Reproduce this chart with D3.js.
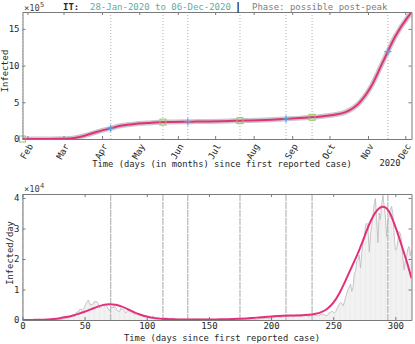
<!DOCTYPE html>
<html>
<head>
<meta charset="utf-8">
<script src="https://cdn.jsdelivr.net/npm/d3@7"></script>
<style>
body { margin: 0; background: #fff; }
svg { display: block; font-family: "DejaVu Sans Mono", monospace; }
</style>
</head>
<body>
<svg width="415" height="344"></svg>
<script>
//chart data
var startDate = new Date(2020, 0, 28);
var lastDay = 313;

//cumulative infected (x 1e5), fitted curve
var cumDays = [0,10,20,30,40,50,60,70,80,90,100,110,120,130,140,150,160,170,180,190,200,210,220,230,240,250,260,270,280,290,300,310,313];
var cumVals = [0,0,0.01,0.03,0.1,0.45,0.98,1.42,1.83,2.05,2.17,2.27,2.31,2.34,2.37,2.4,2.43,2.48,2.52,2.57,2.63,2.71,2.81,2.93,3.07,3.27,3.66,4.75,7.0,10.5,14.0,16.6,17.25];

//daily infected fit (thousands)
var fitDays = [0,5,10,15,20,25,30,35,40,45,50,55,60,65,70,75,80,85,90,95,100,105,110,115,120,125,130,135,140,145,150,155,160,165,170,175,180,185,190,195,200,205,210,215,220,225,230,235,240,245,250,255,260,265,270,275,280,285,290,295,300,305,310,313];
var fitVals = [0,0.02,0.05,0.1,0.2,0.35,0.6,0.95,1.4,2.0,2.7,3.5,4.3,4.95,5.2,5.0,4.4,3.5,2.5,1.7,1.1,0.7,0.45,0.3,0.22,0.18,0.16,0.15,0.15,0.16,0.17,0.19,0.22,0.27,0.33,0.42,0.53,0.67,0.83,1.0,1.17,1.3,1.4,1.47,1.5,1.55,1.7,2.0,2.5,3.6,5.6,8.8,13.0,17.5,22.0,27.2,32.3,35.8,37.1,35.5,30.6,24.5,18.0,13.7];

//reported daily infected (thousands), one value per day from 28-Jan
var rawDaily = [
 0,0,0,0,0,0,0,0,0,0,0,0,0,0,0,0,0,0,0,0,0,0,0,0,
 0.02,0.06,0.07,0.06,0.1,0.09,0.25,0.24,0.24,
 0.57,0.34,0.47,0.59,0.77,0.78,1.25,1.49,1.8,0.98,2.31,2.65,2.55,3.5,3.59,3.23,3.53,4.21,5.32,5.99,6.56,5.56,4.79,5.25,5.21,6.15,5.96,5.97,5.22,4.05,4.05,
 4.78,4.67,4.59,4.8,4.32,3.6,3.04,3.84,4.2,3.95,4.69,4.09,3.15,2.97,2.67,3.79,3.49,3.49,3.05,2.26,2.73,3.37,2.65,3.02,2.36,2.32,1.74,2.09,2.09,1.87,
 1.97,1.9,1.39,1.22,1.08,1.44,1.4,1.33,1.08,0.8,0.74,1.4,0.89,0.99,0.79,0.88,0.68,0.45,0.81,0.67,0.64,0.65,0.67,0.53,0.3,0.4,0.58,0.59,0.52,0.42,0.36,
 0.32,0.18,0.3,0.25,0.2,0.28,0.2,0.18,0.28,0.3,0.2,0.2,0.34,0.33,0.2,0.3,0.33,0.25,0.26,0.23,0.26,0.2,0.2,0.3,0.26,0.2,0.2,0.28,0.19,0.2,
 0.19,0.19,0.22,0.24,0.21,0.19,0.14,0.19,0.19,0.23,0.27,0.19,0.17,0.21,0.13,0.17,0.23,0.28,0.23,0.16,0.19,0.13,0.19,0.26,0.28,0.31,0.25,0.18,0.21,0.29,0.38,
 0.3,0.24,0.16,0.28,0.4,0.34,0.55,0.38,0.46,0.48,0.63,0.46,0.48,0.4,0.63,0.64,0.84,0.95,1.07,1.21,0.95,0.88,0.85,1.07,1.37,1.41,1.21,1.2,0.95,1.37,1.46,
 0.98,1.33,1.33,1.7,1.73,1.7,1.37,1.01,1.43,1.6,1.6,1.5,1.46,1.01,1.23,1.45,1.59,1.91,1.64,1.59,1.35,1.39,1.64,1.77,1.91,1.87,1.77,1.45,1.49,1.85,
 2.55,2.55,2.84,2.58,2.26,2.68,3.68,4.46,5.37,5.72,5.46,4.62,5.9,7.33,8.8,10.01,10.93,11.7,9.34,10.87,15.2,16.08,19.14,19.65,21.27,17.01,21.99,24.99,26.83,31.08,31.76,
 29.9,22.25,28.24,30.55,34.51,37.81,39.8,32.62,25.27,35.1,32.96,37.98,40.9,37.25,33.98,27.35,32.19,34.28,36.18,37.24,34.77,28.34,22.93,23.23,25.85,29.0,28.35,26.32,20.65,16.38,
 19.35,20.71,23.23,24.1,21.05,23.0
];

//marked days
var eventDays = [0,71,113,133,175,212,233,294];
var squareDays = [0,113,175,233];
var squareVals = [0,2.3,2.5,2.96];
var plusDays = [71,133,212,294];
var plusVals = [1.47,2.35,2.73,11.9];

//tick labels
var cumTicks = [0,5,10,15];
var dailyTicks = [0,10,20,30,40];
var dayTicks = [0,50,100,150,200,250,300];

var magenta = "#e3307b";
var frameColor = "#7a7a7a";
var textColor = "#262626";

var svg = d3.select("svg");

var left = 22.5, right = 411.5;

//scales
var xDay = d3.scaleLinear()
    .domain([0, lastDay])
    .range([left, right]);
var xDate = d3.scaleTime()
    .domain([startDate, d3.timeDay.offset(startDate, lastDay)])
    .range([left, right]);
var yCum = d3.scaleLinear()
    .domain([0, 17.3])
    .range([139, 12]);
var yDaily = d3.scaleLinear()
    .domain([0, 41.3])
    .range([320, 194]);

var dayDate = function(d)
{
    return d3.timeDay.offset(startDate, d);
};

//box with ticks on all four sides, ticks pointing in
var drawFrame = function(xScale, yScale, xTicks, yTicks, yFormat, xFormat)
{
    var y0 = yScale.range()[0], y1 = yScale.range()[1];
    var g = svg.append("g");

    var styleAxis = function(a)
    {
        a.selectAll("path").attr("stroke", frameColor);
        a.selectAll("line").attr("stroke", frameColor);
        a.selectAll("text")
            .attr("fill", textColor)
            .attr("font-size", "9px")
            .attr("font-family", "DejaVu Sans Mono");
    };

    var bottom = g.append("g")
        .attr("transform", "translate(0," + y0 + ")")
        .call(d3.axisBottom(xScale).tickValues(xTicks).tickSize(-3).tickSizeOuter(0).tickPadding(3).tickFormat(xFormat));
    bottom.call(styleAxis);

    g.append("g")
        .attr("transform", "translate(0," + y1 + ")")
        .call(d3.axisTop(xScale).tickValues(xTicks).tickSize(-3).tickSizeOuter(0).tickFormat(""))
        .call(styleAxis);

    g.append("g")
        .attr("transform", "translate(" + left + ",0)")
        .call(d3.axisLeft(yScale).tickValues(yTicks).tickSize(-3).tickSizeOuter(0).tickPadding(3).tickFormat(yFormat))
        .call(styleAxis);

    g.append("g")
        .attr("transform", "translate(" + right + ",0)")
        .call(d3.axisRight(yScale).tickValues(yTicks).tickSize(-3).tickSizeOuter(0).tickFormat(""))
        .call(styleAxis);

    return bottom;
};

//clip areas
var defs = svg.append("defs");
defs.append("clipPath").attr("id", "clipTop")
    .append("rect")
    .attr("x", left).attr("y", 12)
    .attr("width", right - left).attr("height", 127);
defs.append("clipPath").attr("id", "clipBottom")
    .append("rect")
    .attr("x", left).attr("y", 194)
    .attr("width", right - left).attr("height", 126);

//---------- top plot: cumulative ----------
var topPlot = svg.append("g").attr("clip-path", "url(#clipTop)");

topPlot.selectAll("line.event")
    .data(eventDays)
    .enter()
    .append("line")
    .attr("class", "event")
    .attr("x1", function(d) { return xDay(d); })
    .attr("x2", function(d) { return xDay(d); })
    .attr("y1", 12)
    .attr("y2", 139)
    .attr("stroke", "#9a9a9a")
    .attr("stroke-width", 0.8)
    .attr("stroke-dasharray", "1,2");

var cumPoints = cumDays.map(function(d, i) { return [d, cumVals[i]]; });
var cumLine = d3.line()
    .x(function(p) { return xDay(p[0]); })
    .y(function(p) { return yCum(p[1]); })
    .curve(d3.curveMonotoneX);

topPlot.append("path")
    .attr("d", cumLine(cumPoints))
    .attr("fill", "none")
    .attr("stroke", "#c9c9c9")
    .attr("stroke-width", 5)
    .attr("stroke-linecap", "round");
topPlot.append("path")
    .attr("d", cumLine(cumPoints))
    .attr("fill", "none")
    .attr("stroke", magenta)
    .attr("stroke-width", 2);

//markers
svg.selectAll("rect.sq")
    .data(squareDays)
    .enter()
    .append("rect")
    .attr("class", "sq")
    .attr("x", function(d) { return xDay(d) - 3; })
    .attr("y", function(d, i) { return yCum(squareVals[i]) - 3; })
    .attr("width", 6)
    .attr("height", 6)
    .attr("fill", "none")
    .attr("stroke", "#8fcb5a")
    .attr("stroke-width", 1);

svg.selectAll("path.plus")
    .data(plusDays)
    .enter()
    .append("path")
    .attr("class", "plus")
    .attr("transform", function(d, i) { return "translate(" + xDay(d) + "," + yCum(plusVals[i]) + ")"; })
    .attr("d", "M-3.5,0H3.5M0,-3.5V3.5")
    .attr("stroke", "#47a6e6")
    .attr("stroke-width", 1.2);

//top frame, month ticks
var months = d3.timeMonth.range(d3.timeMonth.ceil(startDate), dayDate(lastDay + 1));
var topBottomAxis = drawFrame(xDate, yCum, months, cumTicks, d3.format("d"), d3.timeFormat("%b"));
topBottomAxis.selectAll("text")
    .attr("y", 0)
    .attr("dy", 0)
    .attr("text-anchor", "end")
    .attr("transform", "translate(5.5,7) rotate(-60)");

//---------- bottom plot: daily ----------
var bottomPlot = svg.append("g").attr("clip-path", "url(#clipBottom)");

//light stems for each reported day
bottomPlot.selectAll("line.stem")
    .data(rawDaily)
    .enter()
    .append("line")
    .attr("class", "stem")
    .attr("x1", function(d, i) { return xDay(i); })
    .attr("x2", function(d, i) { return xDay(i); })
    .attr("y1", yDaily(0))
    .attr("y2", function(d) { return yDaily(d); })
    .attr("stroke", "#e4e4e4")
    .attr("stroke-width", 0.7);

bottomPlot.selectAll("line.event")
    .data(eventDays)
    .enter()
    .append("line")
    .attr("class", "event")
    .attr("x1", function(d) { return xDay(d); })
    .attr("x2", function(d) { return xDay(d); })
    .attr("y1", 194)
    .attr("y2", 320)
    .attr("stroke", "#a8a8a8")
    .attr("stroke-width", 1)
    .attr("stroke-dasharray", "7,1");

bottomPlot.append("path")
    .attr("d", d3.line()
        .x(function(d, i) { return xDay(i); })
        .y(function(d) { return yDaily(d); })(rawDaily))
    .attr("fill", "none")
    .attr("stroke", "#b9b9b9")
    .attr("stroke-width", 0.8);

var fitPoints = fitDays.map(function(d, i) { return [d, fitVals[i]]; });
bottomPlot.append("path")
    .attr("d", d3.line()
        .x(function(p) { return xDay(p[0]); })
        .y(function(p) { return yDaily(p[1]); })
        .curve(d3.curveMonotoneX)(fitPoints))
    .attr("fill", "none")
    .attr("stroke", magenta)
    .attr("stroke-width", 2);

drawFrame(xDay, yDaily, dayTicks, dailyTicks, function(d) { return d / 10; }, d3.format("d"));

//---------- texts ----------
var addText = function(x, y, msg, opts)
{
    var t = svg.append("text")
        .attr("x", x)
        .attr("y", y)
        .attr("font-size", (opts && opts.size) || "8.8px")
        .attr("fill", (opts && opts.fill) || textColor)
        .attr("text-anchor", (opts && opts.anchor) || "start")
        .text(msg);
    if (opts && opts.bold) { t.attr("font-weight", "bold"); }
    if (opts && opts.rotate) { t.attr("transform", "rotate(-90," + x + "," + y + ")"); }
    return t;
};

//title
addText(63, 9.5, "IT:", {bold: true, size: "9px"});
addText(90, 9.5, "28-Jan-2020 to 06-Dec-2020", {fill: "#62aaa3", size: "9px"});
addText(238, 10, "|", {bold: true, size: "11px", anchor: "middle"});
addText(252, 9.5, "Phase: possible post-peak", {fill: "#7d7d7d", size: "9px"});

//exponent labels
var exp5 = addText(24, 10.5, "\u00d710", {fill: "#444"});
exp5.append("tspan").attr("dy", -4).attr("font-size", "7px").text("5");
var exp4 = addText(24, 192, "\u00d710", {fill: "#444"});
exp4.append("tspan").attr("dy", -4).attr("font-size", "7px").text("4");

//axis labels
addText(222, 167, "Time (days (in months) since first reported case)", {anchor: "middle"});
addText(390, 166, "2020", {anchor: "middle"});
addText(7.5, 71, "Infected", {anchor: "middle", rotate: true});
addText(222, 341, "Time (days since first reported case)", {anchor: "middle"});
addText(13, 253, "Infected/day", {anchor: "middle", rotate: true});
</script>
</body>
</html>
